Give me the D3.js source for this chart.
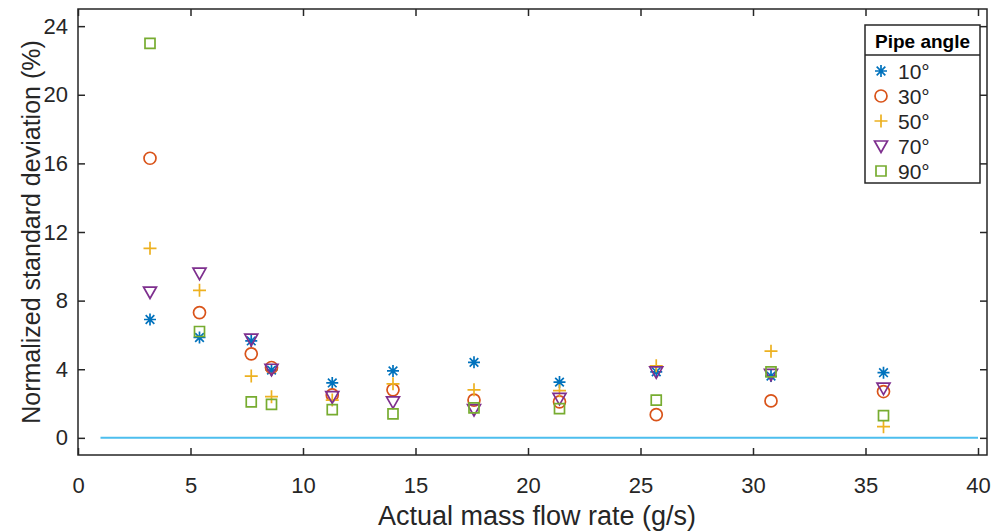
<!DOCTYPE html>
<html>
<head>
<meta charset="utf-8">
<script src="https://cdn.jsdelivr.net/npm/d3@7"></script>
<style>
  body { margin: 0; background: #fff; }
  text { font-family: "Liberation Sans", Arial, sans-serif; fill: #262626; }
</style>
</head>
<body>
<svg id="chart" width="995" height="532"></svg>
<script>
// mass flow rate (g/s), shared by every pipe angle
const flowRate = [3.2, 5.4, 7.7, 8.6, 11.3, 14.0, 17.6, 21.4, 25.7, 30.8, 35.8];

const angle10 = [6.9, 5.85, 5.65, 3.95, 3.2, 3.9, 4.4, 3.25, 3.85, 3.6, 3.8];
const angle30 = [16.3, 7.3, 4.9, 4.1, 2.5, 2.8, 2.2, 2.1, 1.35, 2.15, 2.7];
const angle50 = [11.05, 8.6, 3.6, 2.4, 2.2, 3.15, 2.8, 2.75, 4.2, 5.05, 0.65];
const angle70 = [8.5, 9.6, 5.75, 4.0, 2.4, 2.1, 1.65, 2.3, 3.85, 3.7, 2.9];
const angle90 = [23.0, 6.2, 2.1, 1.95, 1.65, 1.4, 1.75, 1.7, 2.2, 3.85, 1.3];

const legendLabels = ["10°", "30°", "50°", "70°", "90°"];
const xTicks = [0, 5, 10, 15, 20, 25, 30, 35, 40];
const yTicks = [0, 4, 8, 12, 16, 20, 24];
const zeroLine = [1, 40];

const view = {
  width: 995,
  height: 532,
  left: 78,
  right: 987,
  top: 9,
  bottom: 455,
  tick: 7,
  axisColor: "#262626"
}

const series = [
  { label: legendLabels[0], values: angle10, color: "#0072BD", marker: "asterisk" },
  { label: legendLabels[1], values: angle30, color: "#D95319", marker: "circle" },
  { label: legendLabels[2], values: angle50, color: "#EDB120", marker: "plus" },
  { label: legendLabels[3], values: angle70, color: "#7E2F8E", marker: "triangle" },
  { label: legendLabels[4], values: angle90, color: "#77AC30", marker: "square" },
];

// MATLAB-like marker outlines, centred on 0,0
function markerPath(type) {
  const p = d3.path();
  if (type === "asterisk") {
    const r = 6, q = r * 0.72;
    p.moveTo(-r, 0); p.lineTo(r, 0);
    p.moveTo(0, -r); p.lineTo(0, r);
    p.moveTo(-q, -q); p.lineTo(q, q);
    p.moveTo(-q, q); p.lineTo(q, -q);
  } else if (type === "circle") {
    p.arc(0, 0, 6, 0, 2 * Math.PI);
  } else if (type === "plus") {
    const r = 6.5;
    p.moveTo(-r, 0); p.lineTo(r, 0);
    p.moveTo(0, -r); p.lineTo(0, r);
  } else if (type === "triangle") {
    p.moveTo(-6.5, -5); p.lineTo(6.5, -5); p.lineTo(0, 6.5); p.closePath();
  } else if (type === "square") {
    p.rect(-5, -5, 10, 10);
  }
  return p.toString();
}

const svg = d3.select("svg#chart");

const x = d3.scaleLinear().domain([0, 40.4]).range([view.left, view.right]);
const y = d3.scaleLinear().domain([-1, 25]).range([view.bottom, view.top]);

// zero reference line
svg.append("line")
  .attr("x1", x(zeroLine[0]))
  .attr("x2", x(zeroLine[1]))
  .attr("y1", y(0))
  .attr("y2", y(0))
  .attr("stroke", "#4DBEEE")
  .attr("stroke-width", 2);

// axes: ticks point inwards and are mirrored on top/right like a boxed plot
const axisBottom = d3.axisBottom(x).tickValues(xTicks).tickSizeInner(-view.tick).tickSizeOuter(0).tickPadding(22);
const axisTop = d3.axisTop(x).tickValues(xTicks).tickSizeInner(-view.tick).tickSizeOuter(0).tickFormat("");
const axisLeft = d3.axisLeft(y).tickValues(yTicks).tickSizeInner(-view.tick).tickSizeOuter(0).tickPadding(10);
const axisRight = d3.axisRight(y).tickValues(yTicks).tickSizeInner(-view.tick).tickSizeOuter(0).tickFormat("");

function styleAxis(g) {
  g.select(".domain").remove();
  g.selectAll(".tick line").attr("stroke", view.axisColor).attr("stroke-width", 1.5);
  g.selectAll(".tick text")
    .attr("fill", view.axisColor)
    .style("font-size", "22px")
    .style("font-family", "'Liberation Sans', Arial, sans-serif");
}

svg.append("g").attr("transform", `translate(0,${view.bottom})`).call(axisBottom).call(styleAxis);
svg.append("g").attr("transform", `translate(0,${view.top})`).call(axisTop).call(styleAxis);
svg.append("g").attr("transform", `translate(${view.left},0)`).call(axisLeft).call(styleAxis);
svg.append("g").attr("transform", `translate(${view.right},0)`).call(axisRight).call(styleAxis);

svg.append("rect")
  .attr("x", view.left)
  .attr("y", view.top)
  .attr("width", view.right - view.left)
  .attr("height", view.bottom - view.top)
  .attr("fill", "none")
  .attr("stroke", view.axisColor)
  .attr("stroke-width", 1.5);

// data markers
series.forEach(s => {
  svg.append("g")
    .selectAll("path")
    .data(s.values.map((v, i) => ({ x: flowRate[i], y: v })))
    .join("path")
    .attr("transform", d => `translate(${x(d.x)},${y(d.y)})`)
    .attr("d", markerPath(s.marker))
    .attr("fill", "none")
    .attr("stroke", s.color)
    .attr("stroke-width", 1.7);
});

// axis titles
svg.append("text")
  .attr("x", 537)
  .attr("y", 525)
  .attr("text-anchor", "middle")
  .style("font-size", "27px")
  .text("Actual mass flow rate (g/s)");

svg.append("text")
  .attr("transform", `translate(40,${(view.top + view.bottom) / 2}) rotate(-90)`)
  .attr("text-anchor", "middle")
  .style("font-size", "25px")
  .text("Normalized standard deviation (%)");

// legend
const legend = svg.append("g").attr("transform", "translate(865,25)");
legend.append("rect")
  .attr("width", 115).attr("height", 158)
  .attr("fill", "#fff")
  .attr("stroke", view.axisColor)
  .attr("stroke-width", 1.5);
legend.append("line")
  .attr("x1", 0).attr("x2", 115).attr("y1", 30).attr("y2", 30)
  .attr("stroke", view.axisColor).attr("stroke-width", 1.5);
legend.append("text")
  .attr("x", 57.5).attr("y", 23)
  .attr("text-anchor", "middle")
  .style("font-size", "19px")
  .style("font-weight", "bold")
  .style("fill", "#000")
  .text("Pipe angle");

const entry = legend.selectAll("g.entry")
  .data(series)
  .join("g")
  .attr("class", "entry")
  .attr("transform", (d, i) => `translate(0,${46 + i * 25})`);
entry.append("path")
  .attr("transform", "translate(16,0)")
  .attr("d", d => markerPath(d.marker))
  .attr("fill", "none")
  .attr("stroke", d => d.color)
  .attr("stroke-width", 1.7);
entry.append("text")
  .attr("x", 33).attr("y", 7.5)
  .style("font-size", "21px")
  .text(d => d.label);
</script>
</body>
</html>
